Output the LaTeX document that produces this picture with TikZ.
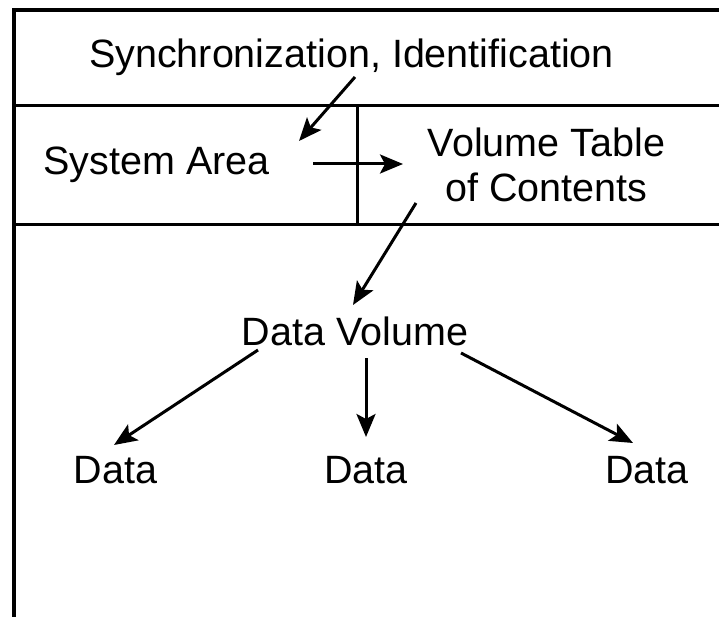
\documentclass[tikz,border=0pt]{standalone}
\usepackage{fontspec}
\setmainfont{Liberation Sans}
\usetikzlibrary{arrows.meta}
\begin{document}
\begin{tikzpicture}[x=1pt,y=1pt,
  lbl/.style={inner sep=0pt, anchor=base, font=\fontsize{39.5}{45}\selectfont},
  frame/.style={line width=3.5pt, black},
  inner/.style={line width=3pt, black},
  conn/.style={line width=3pt, -{Stealth[length=23pt,width=19pt,inset=5pt]}}]
\useasboundingbox (0,0) rectangle (719,-617);
% frame
\draw[frame] (14,-617) -- (14,-10) -- (719,-10);
\draw[inner] (14,-106) -- (719,-106);
\draw[inner] (14,-225) -- (719,-225);
\draw[inner] (357,-106) -- (357,-225);
% texts
\node[lbl] (sync) at (351.5,-68) {Synchronization, Identification};
\node[lbl] (sys) at (156.5,-175) {System Area};
\node[lbl, align=center] (vtoc) at (546.5,-202) {Volume Table\\of Contents};
\node[lbl] (dv) at (355,-345) {Data Volume};
\node[lbl] (d1) at (115.5,-483) {Data};
\node[lbl] (d2) at (366,-483) {Data};
\node[lbl] (d3) at (647,-483) {Data};
% connector ends
\coordinate (a1s) at (355,-77);
\coordinate (a1e) at (299,-141);
\coordinate (a2s) at (313,-164);
\coordinate (a2e) at (403,-164);
\coordinate (a3s) at (416,-203);
\coordinate (a3e) at (353,-305);
\coordinate (a4s) at (258,-350);
\coordinate (a4e) at (114,-445);
\coordinate (a5s) at (366,-358);
\coordinate (a5e) at (366,-437);
\coordinate (a6s) at (461,-353);
\coordinate (a6e) at (633,-443);
\draw[conn] (a1s) -- (a1e);
\draw[conn] (a2s) -- (a2e);
\draw[conn] (a3s) -- (a3e);
\draw[conn] (a4s) -- (a4e);
\draw[conn] (a5s) -- (a5e);
\draw[conn] (a6s) -- (a6e);
\end{tikzpicture}
\end{document}
